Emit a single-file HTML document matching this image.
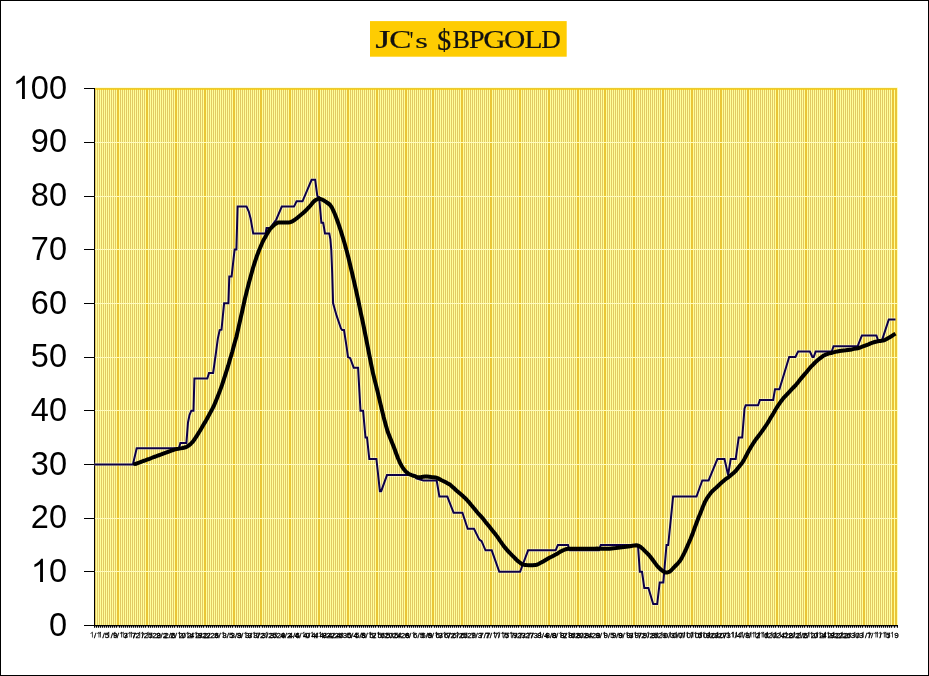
<!DOCTYPE html><html><head><meta charset="utf-8"><title>JC's $BPGOLD</title>
<style>html,body{margin:0;padding:0;background:#fff}body{width:929px;height:676px;overflow:hidden}svg{display:block}text{font-family:"Liberation Sans",sans-serif}.ser text{font-family:"Liberation Serif",serif}</style></head><body>
<svg style="will-change:transform" width="929" height="676" viewBox="0 0 929 676">
<rect x="0" y="0" width="929" height="676" fill="#fff"/>
<g shape-rendering="crispEdges">
<rect x="95" y="88" width="802" height="537" fill="#E2C864"/>
<path d="M117.5 88V625M118.5 88V625M146.5 88V625M147.5 88V625M175.5 88V625M176.5 88V625M204.5 88V625M205.5 88V625M233.5 88V625M234.5 88V625M260.5 88V625M261.5 88V625M289.5 88V625M290.5 88V625M318.5 88V625M319.5 88V625M347.5 88V625M348.5 88V625M376.5 88V625M377.5 88V625M405.5 88V625M406.5 88V625M432.5 88V625M433.5 88V625M461.5 88V625M462.5 88V625M490.5 88V625M491.5 88V625M519.5 88V625M520.5 88V625M548.5 88V625M549.5 88V625M577.5 88V625M578.5 88V625M604.5 88V625M605.5 88V625M633.5 88V625M634.5 88V625M662.5 88V625M663.5 88V625M691.5 88V625M692.5 88V625M720.5 88V625M721.5 88V625M747.5 88V625M748.5 88V625M776.5 88V625M777.5 88V625M805.5 88V625M806.5 88V625M834.5 88V625M835.5 88V625M863.5 88V625M864.5 88V625M892.5 88V625M893.5 88V625M895.5 88V625M896.5 88V625" stroke="#EAC536" stroke-width="1" fill="none"/>
<path d="M96.5 88V625M98.5 88V625M100.5 88V625M102.5 88V625M104.5 88V625M106.5 88V625M108.5 88V625M110.5 88V625M112.5 88V625M114.5 88V625M116.5 88V625M119.5 88V625M121.5 88V625M123.5 88V625M125.5 88V625M127.5 88V625M129.5 88V625M131.5 88V625M133.5 88V625M135.5 88V625M137.5 88V625M139.5 88V625M141.5 88V625M143.5 88V625M145.5 88V625M148.5 88V625M150.5 88V625M152.5 88V625M154.5 88V625M156.5 88V625M158.5 88V625M160.5 88V625M162.5 88V625M164.5 88V625M166.5 88V625M168.5 88V625M170.5 88V625M172.5 88V625M174.5 88V625M177.5 88V625M179.5 88V625M181.5 88V625M183.5 88V625M185.5 88V625M187.5 88V625M189.5 88V625M191.5 88V625M193.5 88V625M195.5 88V625M197.5 88V625M199.5 88V625M201.5 88V625M203.5 88V625M206.5 88V625M208.5 88V625M210.5 88V625M212.5 88V625M214.5 88V625M216.5 88V625M218.5 88V625M220.5 88V625M222.5 88V625M224.5 88V625M226.5 88V625M228.5 88V625M230.5 88V625M232.5 88V625M235.5 88V625M237.5 88V625M239.5 88V625M241.5 88V625M243.5 88V625M245.5 88V625M247.5 88V625M249.5 88V625M251.5 88V625M253.5 88V625M255.5 88V625M257.5 88V625M259.5 88V625M262.5 88V625M264.5 88V625M266.5 88V625M268.5 88V625M270.5 88V625M272.5 88V625M274.5 88V625M276.5 88V625M278.5 88V625M280.5 88V625M282.5 88V625M284.5 88V625M286.5 88V625M288.5 88V625M291.5 88V625M293.5 88V625M295.5 88V625M297.5 88V625M299.5 88V625M301.5 88V625M303.5 88V625M305.5 88V625M307.5 88V625M309.5 88V625M311.5 88V625M313.5 88V625M315.5 88V625M317.5 88V625M320.5 88V625M322.5 88V625M324.5 88V625M326.5 88V625M328.5 88V625M330.5 88V625M332.5 88V625M334.5 88V625M336.5 88V625M338.5 88V625M340.5 88V625M342.5 88V625M344.5 88V625M346.5 88V625M349.5 88V625M351.5 88V625M353.5 88V625M355.5 88V625M357.5 88V625M359.5 88V625M361.5 88V625M363.5 88V625M365.5 88V625M367.5 88V625M369.5 88V625M371.5 88V625M373.5 88V625M375.5 88V625M378.5 88V625M380.5 88V625M382.5 88V625M384.5 88V625M386.5 88V625M388.5 88V625M390.5 88V625M392.5 88V625M394.5 88V625M396.5 88V625M398.5 88V625M400.5 88V625M402.5 88V625M404.5 88V625M407.5 88V625M409.5 88V625M411.5 88V625M413.5 88V625M415.5 88V625M417.5 88V625M419.5 88V625M421.5 88V625M423.5 88V625M425.5 88V625M427.5 88V625M429.5 88V625M431.5 88V625M434.5 88V625M436.5 88V625M438.5 88V625M440.5 88V625M442.5 88V625M444.5 88V625M446.5 88V625M448.5 88V625M450.5 88V625M452.5 88V625M454.5 88V625M456.5 88V625M458.5 88V625M460.5 88V625M463.5 88V625M465.5 88V625M467.5 88V625M469.5 88V625M471.5 88V625M473.5 88V625M475.5 88V625M477.5 88V625M479.5 88V625M481.5 88V625M483.5 88V625M485.5 88V625M487.5 88V625M489.5 88V625M492.5 88V625M494.5 88V625M496.5 88V625M498.5 88V625M500.5 88V625M502.5 88V625M504.5 88V625M506.5 88V625M508.5 88V625M510.5 88V625M512.5 88V625M514.5 88V625M516.5 88V625M518.5 88V625M521.5 88V625M523.5 88V625M525.5 88V625M527.5 88V625M529.5 88V625M531.5 88V625M533.5 88V625M535.5 88V625M537.5 88V625M539.5 88V625M541.5 88V625M543.5 88V625M545.5 88V625M547.5 88V625M550.5 88V625M552.5 88V625M554.5 88V625M556.5 88V625M558.5 88V625M560.5 88V625M562.5 88V625M564.5 88V625M566.5 88V625M568.5 88V625M570.5 88V625M572.5 88V625M574.5 88V625M576.5 88V625M579.5 88V625M581.5 88V625M583.5 88V625M585.5 88V625M587.5 88V625M589.5 88V625M591.5 88V625M593.5 88V625M595.5 88V625M597.5 88V625M599.5 88V625M601.5 88V625M603.5 88V625M606.5 88V625M608.5 88V625M610.5 88V625M612.5 88V625M614.5 88V625M616.5 88V625M618.5 88V625M620.5 88V625M622.5 88V625M624.5 88V625M626.5 88V625M628.5 88V625M630.5 88V625M632.5 88V625M635.5 88V625M637.5 88V625M639.5 88V625M641.5 88V625M643.5 88V625M645.5 88V625M647.5 88V625M649.5 88V625M651.5 88V625M653.5 88V625M655.5 88V625M657.5 88V625M659.5 88V625M661.5 88V625M664.5 88V625M666.5 88V625M668.5 88V625M670.5 88V625M672.5 88V625M674.5 88V625M676.5 88V625M678.5 88V625M680.5 88V625M682.5 88V625M684.5 88V625M686.5 88V625M688.5 88V625M690.5 88V625M693.5 88V625M695.5 88V625M697.5 88V625M699.5 88V625M701.5 88V625M703.5 88V625M705.5 88V625M707.5 88V625M709.5 88V625M711.5 88V625M713.5 88V625M715.5 88V625M717.5 88V625M719.5 88V625M722.5 88V625M724.5 88V625M726.5 88V625M728.5 88V625M730.5 88V625M732.5 88V625M734.5 88V625M736.5 88V625M738.5 88V625M740.5 88V625M742.5 88V625M744.5 88V625M746.5 88V625M749.5 88V625M751.5 88V625M753.5 88V625M755.5 88V625M757.5 88V625M759.5 88V625M761.5 88V625M763.5 88V625M765.5 88V625M767.5 88V625M769.5 88V625M771.5 88V625M773.5 88V625M775.5 88V625M778.5 88V625M780.5 88V625M782.5 88V625M784.5 88V625M786.5 88V625M788.5 88V625M790.5 88V625M792.5 88V625M794.5 88V625M796.5 88V625M798.5 88V625M800.5 88V625M802.5 88V625M804.5 88V625M807.5 88V625M809.5 88V625M811.5 88V625M813.5 88V625M815.5 88V625M817.5 88V625M819.5 88V625M821.5 88V625M823.5 88V625M825.5 88V625M827.5 88V625M829.5 88V625M831.5 88V625M833.5 88V625M836.5 88V625M838.5 88V625M840.5 88V625M842.5 88V625M844.5 88V625M846.5 88V625M848.5 88V625M850.5 88V625M852.5 88V625M854.5 88V625M856.5 88V625M858.5 88V625M860.5 88V625M862.5 88V625M865.5 88V625M867.5 88V625M869.5 88V625M871.5 88V625M873.5 88V625M875.5 88V625M877.5 88V625M879.5 88V625M881.5 88V625M883.5 88V625M885.5 88V625M887.5 88V625M889.5 88V625M891.5 88V625M894.5 88V625M897.5 88V625" stroke="#FFFF9C" stroke-width="1" fill="none"/>
<path d="M95 571.5H898M95 518.5H898M95 464.5H898M95 410.5H898M95 357.5H898M95 303.5H898M95 249.5H898M95 196.5H898M95 142.5H898" stroke="#FFFBBE" stroke-width="1" fill="none"/>
<rect x="95" y="88" width="802" height="1" fill="#EACA34"/>
<rect x="95" y="89" width="802" height="1" fill="#F5C81C"/>
<path d="M96.5 89V90M98.5 89V90M100.5 89V90M102.5 89V90M104.5 89V90M106.5 89V90M108.5 89V90M110.5 89V90M112.5 89V90M114.5 89V90M116.5 89V90M119.5 89V90M121.5 89V90M123.5 89V90M125.5 89V90M127.5 89V90M129.5 89V90M131.5 89V90M133.5 89V90M135.5 89V90M137.5 89V90M139.5 89V90M141.5 89V90M143.5 89V90M145.5 89V90M148.5 89V90M150.5 89V90M152.5 89V90M154.5 89V90M156.5 89V90M158.5 89V90M160.5 89V90M162.5 89V90M164.5 89V90M166.5 89V90M168.5 89V90M170.5 89V90M172.5 89V90M174.5 89V90M177.5 89V90M179.5 89V90M181.5 89V90M183.5 89V90M185.5 89V90M187.5 89V90M189.5 89V90M191.5 89V90M193.5 89V90M195.5 89V90M197.5 89V90M199.5 89V90M201.5 89V90M203.5 89V90M206.5 89V90M208.5 89V90M210.5 89V90M212.5 89V90M214.5 89V90M216.5 89V90M218.5 89V90M220.5 89V90M222.5 89V90M224.5 89V90M226.5 89V90M228.5 89V90M230.5 89V90M232.5 89V90M235.5 89V90M237.5 89V90M239.5 89V90M241.5 89V90M243.5 89V90M245.5 89V90M247.5 89V90M249.5 89V90M251.5 89V90M253.5 89V90M255.5 89V90M257.5 89V90M259.5 89V90M262.5 89V90M264.5 89V90M266.5 89V90M268.5 89V90M270.5 89V90M272.5 89V90M274.5 89V90M276.5 89V90M278.5 89V90M280.5 89V90M282.5 89V90M284.5 89V90M286.5 89V90M288.5 89V90M291.5 89V90M293.5 89V90M295.5 89V90M297.5 89V90M299.5 89V90M301.5 89V90M303.5 89V90M305.5 89V90M307.5 89V90M309.5 89V90M311.5 89V90M313.5 89V90M315.5 89V90M317.5 89V90M320.5 89V90M322.5 89V90M324.5 89V90M326.5 89V90M328.5 89V90M330.5 89V90M332.5 89V90M334.5 89V90M336.5 89V90M338.5 89V90M340.5 89V90M342.5 89V90M344.5 89V90M346.5 89V90M349.5 89V90M351.5 89V90M353.5 89V90M355.5 89V90M357.5 89V90M359.5 89V90M361.5 89V90M363.5 89V90M365.5 89V90M367.5 89V90M369.5 89V90M371.5 89V90M373.5 89V90M375.5 89V90M378.5 89V90M380.5 89V90M382.5 89V90M384.5 89V90M386.5 89V90M388.5 89V90M390.5 89V90M392.5 89V90M394.5 89V90M396.5 89V90M398.5 89V90M400.5 89V90M402.5 89V90M404.5 89V90M407.5 89V90M409.5 89V90M411.5 89V90M413.5 89V90M415.5 89V90M417.5 89V90M419.5 89V90M421.5 89V90M423.5 89V90M425.5 89V90M427.5 89V90M429.5 89V90M431.5 89V90M434.5 89V90M436.5 89V90M438.5 89V90M440.5 89V90M442.5 89V90M444.5 89V90M446.5 89V90M448.5 89V90M450.5 89V90M452.5 89V90M454.5 89V90M456.5 89V90M458.5 89V90M460.5 89V90M463.5 89V90M465.5 89V90M467.5 89V90M469.5 89V90M471.5 89V90M473.5 89V90M475.5 89V90M477.5 89V90M479.5 89V90M481.5 89V90M483.5 89V90M485.5 89V90M487.5 89V90M489.5 89V90M492.5 89V90M494.5 89V90M496.5 89V90M498.5 89V90M500.5 89V90M502.5 89V90M504.5 89V90M506.5 89V90M508.5 89V90M510.5 89V90M512.5 89V90M514.5 89V90M516.5 89V90M518.5 89V90M521.5 89V90M523.5 89V90M525.5 89V90M527.5 89V90M529.5 89V90M531.5 89V90M533.5 89V90M535.5 89V90M537.5 89V90M539.5 89V90M541.5 89V90M543.5 89V90M545.5 89V90M547.5 89V90M550.5 89V90M552.5 89V90M554.5 89V90M556.5 89V90M558.5 89V90M560.5 89V90M562.5 89V90M564.5 89V90M566.5 89V90M568.5 89V90M570.5 89V90M572.5 89V90M574.5 89V90M576.5 89V90M579.5 89V90M581.5 89V90M583.5 89V90M585.5 89V90M587.5 89V90M589.5 89V90M591.5 89V90M593.5 89V90M595.5 89V90M597.5 89V90M599.5 89V90M601.5 89V90M603.5 89V90M606.5 89V90M608.5 89V90M610.5 89V90M612.5 89V90M614.5 89V90M616.5 89V90M618.5 89V90M620.5 89V90M622.5 89V90M624.5 89V90M626.5 89V90M628.5 89V90M630.5 89V90M632.5 89V90M635.5 89V90M637.5 89V90M639.5 89V90M641.5 89V90M643.5 89V90M645.5 89V90M647.5 89V90M649.5 89V90M651.5 89V90M653.5 89V90M655.5 89V90M657.5 89V90M659.5 89V90M661.5 89V90M664.5 89V90M666.5 89V90M668.5 89V90M670.5 89V90M672.5 89V90M674.5 89V90M676.5 89V90M678.5 89V90M680.5 89V90M682.5 89V90M684.5 89V90M686.5 89V90M688.5 89V90M690.5 89V90M693.5 89V90M695.5 89V90M697.5 89V90M699.5 89V90M701.5 89V90M703.5 89V90M705.5 89V90M707.5 89V90M709.5 89V90M711.5 89V90M713.5 89V90M715.5 89V90M717.5 89V90M719.5 89V90M722.5 89V90M724.5 89V90M726.5 89V90M728.5 89V90M730.5 89V90M732.5 89V90M734.5 89V90M736.5 89V90M738.5 89V90M740.5 89V90M742.5 89V90M744.5 89V90M746.5 89V90M749.5 89V90M751.5 89V90M753.5 89V90M755.5 89V90M757.5 89V90M759.5 89V90M761.5 89V90M763.5 89V90M765.5 89V90M767.5 89V90M769.5 89V90M771.5 89V90M773.5 89V90M775.5 89V90M778.5 89V90M780.5 89V90M782.5 89V90M784.5 89V90M786.5 89V90M788.5 89V90M790.5 89V90M792.5 89V90M794.5 89V90M796.5 89V90M798.5 89V90M800.5 89V90M802.5 89V90M804.5 89V90M807.5 89V90M809.5 89V90M811.5 89V90M813.5 89V90M815.5 89V90M817.5 89V90M819.5 89V90M821.5 89V90M823.5 89V90M825.5 89V90M827.5 89V90M829.5 89V90M831.5 89V90M833.5 89V90M836.5 89V90M838.5 89V90M840.5 89V90M842.5 89V90M844.5 89V90M846.5 89V90M848.5 89V90M850.5 89V90M852.5 89V90M854.5 89V90M856.5 89V90M858.5 89V90M860.5 89V90M862.5 89V90M865.5 89V90M867.5 89V90M869.5 89V90M871.5 89V90M873.5 89V90M875.5 89V90M877.5 89V90M879.5 89V90M881.5 89V90M883.5 89V90M885.5 89V90M887.5 89V90M889.5 89V90M891.5 89V90M894.5 89V90" stroke="#FFD72A" stroke-width="1" fill="none"/>
<rect x="897" y="88" width="1" height="537" fill="#FFFFB8"/>
<rect x="95" y="87" width="803" height="1" fill="#FFFFD8"/>
<rect x="94" y="88" width="1" height="538" fill="#000"/>
<rect x="84" y="625" width="814" height="1" fill="#000"/>
<path d="M84 625.5H95M84 571.5H95M84 518.5H95M84 464.5H95M84 410.5H95M84 357.5H95M84 303.5H95M84 249.5H95M84 196.5H95M84 142.5H95M84 88.5H95" stroke="#000" stroke-width="1" fill="none"/>
<rect x="94" y="626" width="804" height="1" fill="#8c8c8c"/>
<rect x="94" y="627" width="804" height="1" fill="#dcdcdc"/>
<path d="M94.5 626V627M96.5 626V627M98.5 626V627M100.5 626V627M102.5 626V627M104.5 626V627M106.5 626V627M108.5 626V627M110.5 626V627M112.5 626V627M114.5 626V627M116.5 626V627M119.5 626V627M121.5 626V627M123.5 626V627M125.5 626V627M127.5 626V627M129.5 626V627M131.5 626V627M133.5 626V627M135.5 626V627M137.5 626V627M139.5 626V627M141.5 626V627M143.5 626V627M145.5 626V627M148.5 626V627M150.5 626V627M152.5 626V627M154.5 626V627M156.5 626V627M158.5 626V627M160.5 626V627M162.5 626V627M164.5 626V627M166.5 626V627M168.5 626V627M170.5 626V627M172.5 626V627M174.5 626V627M177.5 626V627M179.5 626V627M181.5 626V627M183.5 626V627M185.5 626V627M187.5 626V627M189.5 626V627M191.5 626V627M193.5 626V627M195.5 626V627M197.5 626V627M199.5 626V627M201.5 626V627M203.5 626V627M206.5 626V627M208.5 626V627M210.5 626V627M212.5 626V627M214.5 626V627M216.5 626V627M218.5 626V627M220.5 626V627M222.5 626V627M224.5 626V627M226.5 626V627M228.5 626V627M230.5 626V627M232.5 626V627M235.5 626V627M237.5 626V627M239.5 626V627M241.5 626V627M243.5 626V627M245.5 626V627M247.5 626V627M249.5 626V627M251.5 626V627M253.5 626V627M255.5 626V627M257.5 626V627M259.5 626V627M262.5 626V627M264.5 626V627M266.5 626V627M268.5 626V627M270.5 626V627M272.5 626V627M274.5 626V627M276.5 626V627M278.5 626V627M280.5 626V627M282.5 626V627M284.5 626V627M286.5 626V627M288.5 626V627M291.5 626V627M293.5 626V627M295.5 626V627M297.5 626V627M299.5 626V627M301.5 626V627M303.5 626V627M305.5 626V627M307.5 626V627M309.5 626V627M311.5 626V627M313.5 626V627M315.5 626V627M317.5 626V627M320.5 626V627M322.5 626V627M324.5 626V627M326.5 626V627M328.5 626V627M330.5 626V627M332.5 626V627M334.5 626V627M336.5 626V627M338.5 626V627M340.5 626V627M342.5 626V627M344.5 626V627M346.5 626V627M349.5 626V627M351.5 626V627M353.5 626V627M355.5 626V627M357.5 626V627M359.5 626V627M361.5 626V627M363.5 626V627M365.5 626V627M367.5 626V627M369.5 626V627M371.5 626V627M373.5 626V627M375.5 626V627M378.5 626V627M380.5 626V627M382.5 626V627M384.5 626V627M386.5 626V627M388.5 626V627M390.5 626V627M392.5 626V627M394.5 626V627M396.5 626V627M398.5 626V627M400.5 626V627M402.5 626V627M404.5 626V627M407.5 626V627M409.5 626V627M411.5 626V627M413.5 626V627M415.5 626V627M417.5 626V627M419.5 626V627M421.5 626V627M423.5 626V627M425.5 626V627M427.5 626V627M429.5 626V627M431.5 626V627M434.5 626V627M436.5 626V627M438.5 626V627M440.5 626V627M442.5 626V627M444.5 626V627M446.5 626V627M448.5 626V627M450.5 626V627M452.5 626V627M454.5 626V627M456.5 626V627M458.5 626V627M460.5 626V627M463.5 626V627M465.5 626V627M467.5 626V627M469.5 626V627M471.5 626V627M473.5 626V627M475.5 626V627M477.5 626V627M479.5 626V627M481.5 626V627M483.5 626V627M485.5 626V627M487.5 626V627M489.5 626V627M492.5 626V627M494.5 626V627M496.5 626V627M498.5 626V627M500.5 626V627M502.5 626V627M504.5 626V627M506.5 626V627M508.5 626V627M510.5 626V627M512.5 626V627M514.5 626V627M516.5 626V627M518.5 626V627M521.5 626V627M523.5 626V627M525.5 626V627M527.5 626V627M529.5 626V627M531.5 626V627M533.5 626V627M535.5 626V627M537.5 626V627M539.5 626V627M541.5 626V627M543.5 626V627M545.5 626V627M547.5 626V627M550.5 626V627M552.5 626V627M554.5 626V627M556.5 626V627M558.5 626V627M560.5 626V627M562.5 626V627M564.5 626V627M566.5 626V627M568.5 626V627M570.5 626V627M572.5 626V627M574.5 626V627M576.5 626V627M579.5 626V627M581.5 626V627M583.5 626V627M585.5 626V627M587.5 626V627M589.5 626V627M591.5 626V627M593.5 626V627M595.5 626V627M597.5 626V627M599.5 626V627M601.5 626V627M603.5 626V627M606.5 626V627M608.5 626V627M610.5 626V627M612.5 626V627M614.5 626V627M616.5 626V627M618.5 626V627M620.5 626V627M622.5 626V627M624.5 626V627M626.5 626V627M628.5 626V627M630.5 626V627M632.5 626V627M635.5 626V627M637.5 626V627M639.5 626V627M641.5 626V627M643.5 626V627M645.5 626V627M647.5 626V627M649.5 626V627M651.5 626V627M653.5 626V627M655.5 626V627M657.5 626V627M659.5 626V627M661.5 626V627M664.5 626V627M666.5 626V627M668.5 626V627M670.5 626V627M672.5 626V627M674.5 626V627M676.5 626V627M678.5 626V627M680.5 626V627M682.5 626V627M684.5 626V627M686.5 626V627M688.5 626V627M690.5 626V627M693.5 626V627M695.5 626V627M697.5 626V627M699.5 626V627M701.5 626V627M703.5 626V627M705.5 626V627M707.5 626V627M709.5 626V627M711.5 626V627M713.5 626V627M715.5 626V627M717.5 626V627M719.5 626V627M722.5 626V627M724.5 626V627M726.5 626V627M728.5 626V627M730.5 626V627M732.5 626V627M734.5 626V627M736.5 626V627M738.5 626V627M740.5 626V627M742.5 626V627M744.5 626V627M746.5 626V627M749.5 626V627M751.5 626V627M753.5 626V627M755.5 626V627M757.5 626V627M759.5 626V627M761.5 626V627M763.5 626V627M765.5 626V627M767.5 626V627M769.5 626V627M771.5 626V627M773.5 626V627M775.5 626V627M778.5 626V627M780.5 626V627M782.5 626V627M784.5 626V627M786.5 626V627M788.5 626V627M790.5 626V627M792.5 626V627M794.5 626V627M796.5 626V627M798.5 626V627M800.5 626V627M802.5 626V627M804.5 626V627M807.5 626V627M809.5 626V627M811.5 626V627M813.5 626V627M815.5 626V627M817.5 626V627M819.5 626V627M821.5 626V627M823.5 626V627M825.5 626V627M827.5 626V627M829.5 626V627M831.5 626V627M833.5 626V627M836.5 626V627M838.5 626V627M840.5 626V627M842.5 626V627M844.5 626V627M846.5 626V627M848.5 626V627M850.5 626V627M852.5 626V627M854.5 626V627M856.5 626V627M858.5 626V627M860.5 626V627M862.5 626V627M865.5 626V627M867.5 626V627M869.5 626V627M871.5 626V627M873.5 626V627M875.5 626V627M877.5 626V627M879.5 626V627M881.5 626V627M883.5 626V627M885.5 626V627M887.5 626V627M889.5 626V627M891.5 626V627M894.5 626V627M897.5 626V627" stroke="#000" stroke-width="1" fill="none"/>
<path d="M94.5 627V628M96.5 627V628M98.5 627V628M100.5 627V628M102.5 627V628M104.5 627V628M106.5 627V628M108.5 627V628M110.5 627V628M112.5 627V628M114.5 627V628M116.5 627V628M119.5 627V628M121.5 627V628M123.5 627V628M125.5 627V628M127.5 627V628M129.5 627V628M131.5 627V628M133.5 627V628M135.5 627V628M137.5 627V628M139.5 627V628M141.5 627V628M143.5 627V628M145.5 627V628M148.5 627V628M150.5 627V628M152.5 627V628M154.5 627V628M156.5 627V628M158.5 627V628M160.5 627V628M162.5 627V628M164.5 627V628M166.5 627V628M168.5 627V628M170.5 627V628M172.5 627V628M174.5 627V628M177.5 627V628M179.5 627V628M181.5 627V628M183.5 627V628M185.5 627V628M187.5 627V628M189.5 627V628M191.5 627V628M193.5 627V628M195.5 627V628M197.5 627V628M199.5 627V628M201.5 627V628M203.5 627V628M206.5 627V628M208.5 627V628M210.5 627V628M212.5 627V628M214.5 627V628M216.5 627V628M218.5 627V628M220.5 627V628M222.5 627V628M224.5 627V628M226.5 627V628M228.5 627V628M230.5 627V628M232.5 627V628M235.5 627V628M237.5 627V628M239.5 627V628M241.5 627V628M243.5 627V628M245.5 627V628M247.5 627V628M249.5 627V628M251.5 627V628M253.5 627V628M255.5 627V628M257.5 627V628M259.5 627V628M262.5 627V628M264.5 627V628M266.5 627V628M268.5 627V628M270.5 627V628M272.5 627V628M274.5 627V628M276.5 627V628M278.5 627V628M280.5 627V628M282.5 627V628M284.5 627V628M286.5 627V628M288.5 627V628M291.5 627V628M293.5 627V628M295.5 627V628M297.5 627V628M299.5 627V628M301.5 627V628M303.5 627V628M305.5 627V628M307.5 627V628M309.5 627V628M311.5 627V628M313.5 627V628M315.5 627V628M317.5 627V628M320.5 627V628M322.5 627V628M324.5 627V628M326.5 627V628M328.5 627V628M330.5 627V628M332.5 627V628M334.5 627V628M336.5 627V628M338.5 627V628M340.5 627V628M342.5 627V628M344.5 627V628M346.5 627V628M349.5 627V628M351.5 627V628M353.5 627V628M355.5 627V628M357.5 627V628M359.5 627V628M361.5 627V628M363.5 627V628M365.5 627V628M367.5 627V628M369.5 627V628M371.5 627V628M373.5 627V628M375.5 627V628M378.5 627V628M380.5 627V628M382.5 627V628M384.5 627V628M386.5 627V628M388.5 627V628M390.5 627V628M392.5 627V628M394.5 627V628M396.5 627V628M398.5 627V628M400.5 627V628M402.5 627V628M404.5 627V628M407.5 627V628M409.5 627V628M411.5 627V628M413.5 627V628M415.5 627V628M417.5 627V628M419.5 627V628M421.5 627V628M423.5 627V628M425.5 627V628M427.5 627V628M429.5 627V628M431.5 627V628M434.5 627V628M436.5 627V628M438.5 627V628M440.5 627V628M442.5 627V628M444.5 627V628M446.5 627V628M448.5 627V628M450.5 627V628M452.5 627V628M454.5 627V628M456.5 627V628M458.5 627V628M460.5 627V628M463.5 627V628M465.5 627V628M467.5 627V628M469.5 627V628M471.5 627V628M473.5 627V628M475.5 627V628M477.5 627V628M479.5 627V628M481.5 627V628M483.5 627V628M485.5 627V628M487.5 627V628M489.5 627V628M492.5 627V628M494.5 627V628M496.5 627V628M498.5 627V628M500.5 627V628M502.5 627V628M504.5 627V628M506.5 627V628M508.5 627V628M510.5 627V628M512.5 627V628M514.5 627V628M516.5 627V628M518.5 627V628M521.5 627V628M523.5 627V628M525.5 627V628M527.5 627V628M529.5 627V628M531.5 627V628M533.5 627V628M535.5 627V628M537.5 627V628M539.5 627V628M541.5 627V628M543.5 627V628M545.5 627V628M547.5 627V628M550.5 627V628M552.5 627V628M554.5 627V628M556.5 627V628M558.5 627V628M560.5 627V628M562.5 627V628M564.5 627V628M566.5 627V628M568.5 627V628M570.5 627V628M572.5 627V628M574.5 627V628M576.5 627V628M579.5 627V628M581.5 627V628M583.5 627V628M585.5 627V628M587.5 627V628M589.5 627V628M591.5 627V628M593.5 627V628M595.5 627V628M597.5 627V628M599.5 627V628M601.5 627V628M603.5 627V628M606.5 627V628M608.5 627V628M610.5 627V628M612.5 627V628M614.5 627V628M616.5 627V628M618.5 627V628M620.5 627V628M622.5 627V628M624.5 627V628M626.5 627V628M628.5 627V628M630.5 627V628M632.5 627V628M635.5 627V628M637.5 627V628M639.5 627V628M641.5 627V628M643.5 627V628M645.5 627V628M647.5 627V628M649.5 627V628M651.5 627V628M653.5 627V628M655.5 627V628M657.5 627V628M659.5 627V628M661.5 627V628M664.5 627V628M666.5 627V628M668.5 627V628M670.5 627V628M672.5 627V628M674.5 627V628M676.5 627V628M678.5 627V628M680.5 627V628M682.5 627V628M684.5 627V628M686.5 627V628M688.5 627V628M690.5 627V628M693.5 627V628M695.5 627V628M697.5 627V628M699.5 627V628M701.5 627V628M703.5 627V628M705.5 627V628M707.5 627V628M709.5 627V628M711.5 627V628M713.5 627V628M715.5 627V628M717.5 627V628M719.5 627V628M722.5 627V628M724.5 627V628M726.5 627V628M728.5 627V628M730.5 627V628M732.5 627V628M734.5 627V628M736.5 627V628M738.5 627V628M740.5 627V628M742.5 627V628M744.5 627V628M746.5 627V628M749.5 627V628M751.5 627V628M753.5 627V628M755.5 627V628M757.5 627V628M759.5 627V628M761.5 627V628M763.5 627V628M765.5 627V628M767.5 627V628M769.5 627V628M771.5 627V628M773.5 627V628M775.5 627V628M778.5 627V628M780.5 627V628M782.5 627V628M784.5 627V628M786.5 627V628M788.5 627V628M790.5 627V628M792.5 627V628M794.5 627V628M796.5 627V628M798.5 627V628M800.5 627V628M802.5 627V628M804.5 627V628M807.5 627V628M809.5 627V628M811.5 627V628M813.5 627V628M815.5 627V628M817.5 627V628M819.5 627V628M821.5 627V628M823.5 627V628M825.5 627V628M827.5 627V628M829.5 627V628M831.5 627V628M833.5 627V628M836.5 627V628M838.5 627V628M840.5 627V628M842.5 627V628M844.5 627V628M846.5 627V628M848.5 627V628M850.5 627V628M852.5 627V628M854.5 627V628M856.5 627V628M858.5 627V628M860.5 627V628M862.5 627V628M865.5 627V628M867.5 627V628M869.5 627V628M871.5 627V628M873.5 627V628M875.5 627V628M877.5 627V628M879.5 627V628M881.5 627V628M883.5 627V628M885.5 627V628M887.5 627V628M889.5 627V628M891.5 627V628M894.5 627V628M897.5 627V628" stroke="#3c3c3c" stroke-width="1" fill="none"/>
</g>
<defs><path id="one" d="M763 0H583V-1147Q518 -1085 412.5 -1023T223 -930V-1104Q374 -1175 487 -1276T647 -1472H763Z"/></defs>
<text x="67.0" y="636.0" font-size="32.5" text-anchor="end" fill="#000">0</text>
<text x="67.0" y="582.0" font-size="32.5" text-anchor="end" fill="#000">0</text>
<use href="#one" transform="translate(30.85,582.0) scale(0.01587)" fill="#000"/>
<text x="67.0" y="528.0" font-size="32.5" text-anchor="end" fill="#000">20</text>
<text x="67.0" y="475.0" font-size="32.5" text-anchor="end" fill="#000">30</text>
<text x="67.0" y="421.0" font-size="32.5" text-anchor="end" fill="#000">40</text>
<text x="67.0" y="367.0" font-size="32.5" text-anchor="end" fill="#000">50</text>
<text x="67.0" y="314.0" font-size="32.5" text-anchor="end" fill="#000">60</text>
<text x="67.0" y="260.0" font-size="32.5" text-anchor="end" fill="#000">70</text>
<text x="67.0" y="206.0" font-size="32.5" text-anchor="end" fill="#000">80</text>
<text x="67.0" y="152.0" font-size="32.5" text-anchor="end" fill="#000">90</text>
<text x="67.0" y="99.0" font-size="32.5" text-anchor="end" fill="#000">00</text>
<use href="#one" transform="translate(12.77,99.0) scale(0.01587)" fill="#000"/>
<g font-size="8.0" fill="#000" stroke="#000" stroke-width="0.3">
<use href="#one" transform="translate(89.68,637.6) scale(0.00391)"/>
<use href="#one" transform="translate(96.35,637.6) scale(0.00391)"/>
<text x="94.12" y="637.6">/</text>
<use href="#one" transform="translate(97.96,637.6) scale(0.00391)"/>
<text x="102.41 104.64" y="637.6">/5</text>
<use href="#one" transform="translate(106.25,637.6) scale(0.00391)"/>
<text x="110.70 112.93" y="637.6">/9</text>
<use href="#one" transform="translate(112.32,637.6) scale(0.00391)"/>
<use href="#one" transform="translate(118.99,637.6) scale(0.00391)"/>
<text x="116.77 123.44" y="637.6">/3</text>
<use href="#one" transform="translate(120.61,637.6) scale(0.00391)"/>
<use href="#one" transform="translate(127.28,637.6) scale(0.00391)"/>
<text x="125.06 131.73" y="637.6">/7</text>
<use href="#one" transform="translate(128.90,637.6) scale(0.00391)"/>
<use href="#one" transform="translate(140.02,637.6) scale(0.00391)"/>
<text x="133.35 135.57" y="637.6">/2</text>
<use href="#one" transform="translate(137.19,637.6) scale(0.00391)"/>
<text x="141.64 143.86 148.31" y="637.6">/25</text>
<use href="#one" transform="translate(145.48,637.6) scale(0.00391)"/>
<text x="149.93 152.15 156.60" y="637.6">/29</text>
<text x="155.99 160.44 162.66" y="637.6">2/2</text>
<text x="164.28 168.73 170.95" y="637.6">2/6</text>
<use href="#one" transform="translate(177.02,637.6) scale(0.00391)"/>
<text x="170.34 174.79 181.47" y="637.6">2/0</text>
<use href="#one" transform="translate(185.31,637.6) scale(0.00391)"/>
<text x="178.63 183.08 189.76" y="637.6">2/4</text>
<use href="#one" transform="translate(193.60,637.6) scale(0.00391)"/>
<text x="186.92 191.37 198.05" y="637.6">2/8</text>
<text x="195.21 199.66 201.88 206.33" y="637.6">2/22</text>
<text x="203.50 207.95 210.17 214.62" y="637.6">2/26</text>
<use href="#one" transform="translate(220.69,637.6) scale(0.00391)"/>
<text x="214.02 218.47" y="637.6">3/</text>
<text x="222.31 226.76 228.98" y="637.6">3/5</text>
<text x="230.60 235.04 237.27" y="637.6">3/9</text>
<use href="#one" transform="translate(243.33,637.6) scale(0.00391)"/>
<text x="236.66 241.11 247.78" y="637.6">3/3</text>
<use href="#one" transform="translate(251.62,637.6) scale(0.00391)"/>
<text x="244.95 249.40 256.07" y="637.6">3/7</text>
<use href="#one" transform="translate(264.36,637.6) scale(0.00391)"/>
<text x="253.24 257.69 259.91" y="637.6">3/2</text>
<text x="261.53 265.98 268.20 272.65" y="637.6">3/25</text>
<text x="269.82 274.27 276.49 280.94" y="637.6">3/29</text>
<text x="280.33 284.78 287.00" y="637.6">4/2</text>
<text x="288.62 293.07 295.29" y="637.6">4/6</text>
<use href="#one" transform="translate(301.36,637.6) scale(0.00391)"/>
<text x="294.69 299.14 305.81" y="637.6">4/0</text>
<use href="#one" transform="translate(309.65,637.6) scale(0.00391)"/>
<text x="302.98 307.42 314.10" y="637.6">4/4</text>
<use href="#one" transform="translate(317.94,637.6) scale(0.00391)"/>
<text x="311.26 315.71 322.39" y="637.6">4/8</text>
<text x="319.55 324.00 326.23 330.68" y="637.6">4/22</text>
<text x="327.84 332.29 334.52 338.96" y="637.6">4/26</text>
<text x="336.13 340.58 342.80 347.25" y="637.6">4/30</text>
<text x="346.65 351.10 353.32" y="637.6">5/4</text>
<text x="354.94 359.39 361.61" y="637.6">5/8</text>
<use href="#one" transform="translate(367.67,637.6) scale(0.00391)"/>
<text x="361.00 365.45 372.12" y="637.6">5/2</text>
<use href="#one" transform="translate(375.96,637.6) scale(0.00391)"/>
<text x="369.29 373.74 380.41" y="637.6">5/6</text>
<text x="377.58 382.03 384.25 388.70" y="637.6">5/20</text>
<text x="385.87 390.32 392.54 396.99" y="637.6">5/24</text>
<text x="394.16 398.61 400.83 405.28" y="637.6">5/28</text>
<use href="#one" transform="translate(411.34,637.6) scale(0.00391)"/>
<text x="404.67 409.12" y="637.6">6/</text>
<text x="412.96 417.41 419.63" y="637.6">6/5</text>
<text x="421.25 425.70 427.92" y="637.6">6/9</text>
<use href="#one" transform="translate(433.99,637.6) scale(0.00391)"/>
<text x="427.32 431.77 438.44" y="637.6">6/3</text>
<use href="#one" transform="translate(442.28,637.6) scale(0.00391)"/>
<text x="435.61 440.06 446.73" y="637.6">6/7</text>
<use href="#one" transform="translate(455.02,637.6) scale(0.00391)"/>
<text x="443.90 448.34 450.57" y="637.6">6/2</text>
<text x="452.18 456.63 458.86 463.31" y="637.6">6/25</text>
<text x="460.47 464.92 467.15 471.60" y="637.6">6/29</text>
<text x="470.99 475.44 477.66" y="637.6">7/3</text>
<text x="479.28 483.73 485.95" y="637.6">7/7</text>
<use href="#one" transform="translate(492.01,637.6) scale(0.00391)"/>
<use href="#one" transform="translate(496.46,637.6) scale(0.00391)"/>
<text x="485.34 489.79" y="637.6">7/</text>
<use href="#one" transform="translate(500.30,637.6) scale(0.00391)"/>
<text x="493.63 498.08 504.75" y="637.6">7/5</text>
<use href="#one" transform="translate(508.59,637.6) scale(0.00391)"/>
<text x="501.92 506.37 513.04" y="637.6">7/9</text>
<text x="510.21 514.66 516.88 521.33" y="637.6">7/23</text>
<text x="518.50 522.95 525.17 529.62" y="637.6">7/27</text>
<use href="#one" transform="translate(537.91,637.6) scale(0.00391)"/>
<text x="526.79 531.24 533.46" y="637.6">7/3</text>
<text x="537.30 541.75 543.98" y="637.6">8/4</text>
<text x="545.59 550.04 552.26" y="637.6">8/8</text>
<use href="#one" transform="translate(558.33,637.6) scale(0.00391)"/>
<text x="551.66 556.11 562.78" y="637.6">8/2</text>
<use href="#one" transform="translate(566.62,637.6) scale(0.00391)"/>
<text x="559.95 564.40 571.07" y="637.6">8/6</text>
<text x="568.24 572.69 574.91 579.36" y="637.6">8/20</text>
<text x="576.53 580.98 583.20 587.65" y="637.6">8/24</text>
<text x="584.81 589.26 591.49 595.94" y="637.6">8/28</text>
<use href="#one" transform="translate(602.00,637.6) scale(0.00391)"/>
<text x="595.33 599.78" y="637.6">9/</text>
<text x="603.62 608.07 610.29" y="637.6">9/5</text>
<text x="611.91 616.36 618.58" y="637.6">9/9</text>
<use href="#one" transform="translate(624.64,637.6) scale(0.00391)"/>
<text x="617.97 622.42 629.09" y="637.6">9/3</text>
<use href="#one" transform="translate(632.93,637.6) scale(0.00391)"/>
<text x="626.26 630.71 637.38" y="637.6">9/7</text>
<use href="#one" transform="translate(645.67,637.6) scale(0.00391)"/>
<text x="634.55 639.00 641.22" y="637.6">9/2</text>
<text x="642.84 647.29 649.51 653.96" y="637.6">9/25</text>
<text x="651.13 655.58 657.80 662.25" y="637.6">9/29</text>
<use href="#one" transform="translate(659.42,637.6) scale(0.00391)"/>
<text x="663.87 668.32 670.54" y="637.6">0/3</text>
<use href="#one" transform="translate(667.71,637.6) scale(0.00391)"/>
<text x="672.16 676.61 678.83" y="637.6">0/7</text>
<use href="#one" transform="translate(673.77,637.6) scale(0.00391)"/>
<use href="#one" transform="translate(684.90,637.6) scale(0.00391)"/>
<use href="#one" transform="translate(689.34,637.6) scale(0.00391)"/>
<text x="678.22 682.67" y="637.6">0/</text>
<use href="#one" transform="translate(682.06,637.6) scale(0.00391)"/>
<use href="#one" transform="translate(693.18,637.6) scale(0.00391)"/>
<text x="686.51 690.96 697.63" y="637.6">0/5</text>
<use href="#one" transform="translate(690.35,637.6) scale(0.00391)"/>
<use href="#one" transform="translate(701.47,637.6) scale(0.00391)"/>
<text x="694.80 699.25 705.92" y="637.6">0/9</text>
<use href="#one" transform="translate(698.64,637.6) scale(0.00391)"/>
<text x="703.09 707.54 709.76 714.21" y="637.6">0/23</text>
<use href="#one" transform="translate(706.93,637.6) scale(0.00391)"/>
<text x="711.38 715.83 718.05 722.50" y="637.6">0/27</text>
<use href="#one" transform="translate(715.22,637.6) scale(0.00391)"/>
<use href="#one" transform="translate(730.79,637.6) scale(0.00391)"/>
<text x="719.67 724.12 726.34" y="637.6">0/3</text>
<use href="#one" transform="translate(725.73,637.6) scale(0.00391)"/>
<use href="#one" transform="translate(730.18,637.6) scale(0.00391)"/>
<text x="734.63 736.86" y="637.6">/4</text>
<use href="#one" transform="translate(734.02,637.6) scale(0.00391)"/>
<use href="#one" transform="translate(738.47,637.6) scale(0.00391)"/>
<text x="742.92 745.15" y="637.6">/8</text>
<use href="#one" transform="translate(740.09,637.6) scale(0.00391)"/>
<use href="#one" transform="translate(744.54,637.6) scale(0.00391)"/>
<use href="#one" transform="translate(751.21,637.6) scale(0.00391)"/>
<text x="748.99 755.66" y="637.6">/2</text>
<use href="#one" transform="translate(748.38,637.6) scale(0.00391)"/>
<use href="#one" transform="translate(752.83,637.6) scale(0.00391)"/>
<use href="#one" transform="translate(759.50,637.6) scale(0.00391)"/>
<text x="757.28 763.95" y="637.6">/6</text>
<use href="#one" transform="translate(756.67,637.6) scale(0.00391)"/>
<use href="#one" transform="translate(761.12,637.6) scale(0.00391)"/>
<text x="765.57 767.79 772.24" y="637.6">/20</text>
<use href="#one" transform="translate(764.96,637.6) scale(0.00391)"/>
<use href="#one" transform="translate(769.41,637.6) scale(0.00391)"/>
<text x="773.86 776.08 780.53" y="637.6">/24</text>
<use href="#one" transform="translate(773.25,637.6) scale(0.00391)"/>
<use href="#one" transform="translate(777.70,637.6) scale(0.00391)"/>
<text x="782.15 784.37 788.82" y="637.6">/28</text>
<use href="#one" transform="translate(783.76,637.6) scale(0.00391)"/>
<text x="788.21 792.66 794.88" y="637.6">2/2</text>
<use href="#one" transform="translate(792.05,637.6) scale(0.00391)"/>
<text x="796.50 800.95 803.17" y="637.6">2/6</text>
<use href="#one" transform="translate(798.11,637.6) scale(0.00391)"/>
<use href="#one" transform="translate(809.24,637.6) scale(0.00391)"/>
<text x="802.56 807.01 813.69" y="637.6">2/0</text>
<use href="#one" transform="translate(806.40,637.6) scale(0.00391)"/>
<use href="#one" transform="translate(817.53,637.6) scale(0.00391)"/>
<text x="810.85 815.30 821.98" y="637.6">2/4</text>
<use href="#one" transform="translate(814.69,637.6) scale(0.00391)"/>
<use href="#one" transform="translate(825.82,637.6) scale(0.00391)"/>
<text x="819.14 823.59 830.26" y="637.6">2/8</text>
<use href="#one" transform="translate(822.98,637.6) scale(0.00391)"/>
<text x="827.43 831.88 834.10 838.55" y="637.6">2/22</text>
<use href="#one" transform="translate(831.27,637.6) scale(0.00391)"/>
<text x="835.72 840.17 842.39 846.84" y="637.6">2/26</text>
<use href="#one" transform="translate(839.56,637.6) scale(0.00391)"/>
<text x="844.01 848.46 850.68 855.13" y="637.6">2/30</text>
<use href="#one" transform="translate(852.30,637.6) scale(0.00391)"/>
<text x="856.75 858.97" y="637.6">/3</text>
<use href="#one" transform="translate(860.59,637.6) scale(0.00391)"/>
<text x="865.04 867.26" y="637.6">/7</text>
<use href="#one" transform="translate(866.65,637.6) scale(0.00391)"/>
<use href="#one" transform="translate(873.33,637.6) scale(0.00391)"/>
<use href="#one" transform="translate(877.78,637.6) scale(0.00391)"/>
<text x="871.10" y="637.6">/</text>
<use href="#one" transform="translate(874.94,637.6) scale(0.00391)"/>
<use href="#one" transform="translate(881.62,637.6) scale(0.00391)"/>
<text x="879.39 886.07" y="637.6">/5</text>
<use href="#one" transform="translate(883.23,637.6) scale(0.00391)"/>
<use href="#one" transform="translate(889.91,637.6) scale(0.00391)"/>
<text x="887.68 894.36" y="637.6">/9</text>
</g>
<polyline points="94.5,464.4 132.9,464.4 136.7,448.3 178.9,448.3 180.4,442.9 186.4,442.9 188.0,422.5 189.5,415.0 191.3,410.7 193.5,410.7 194.4,378.5 207.3,378.5 209.0,373.1 213.1,373.1 214.4,364.0 216.1,351.6 217.9,338.2 219.7,330.1 221.5,329.6 222.3,321.6 224.1,303.3 228.4,303.3 229.3,276.4 231.6,276.4 234.6,249.6 236.4,249.6 237.6,206.6 246.5,206.6 248.8,211.5 250.6,218.5 252.3,228.1 253.2,233.5 265.6,233.5 266.5,228.1 270.1,228.1 276.3,219.5 281.8,206.6 294.0,206.6 296.6,201.3 302.5,201.3 311.6,179.8 315.2,179.8 317.3,195.9 319.1,197.0 321.4,222.8 323.2,222.8 325.0,233.5 329.3,233.5 330.4,239.4 331.3,250.1 332.2,273.2 333.1,303.3 336.6,315.7 341.0,328.5 342.2,330.1 344.0,330.1 346.6,346.8 348.0,357.0 350.2,358.1 353.7,367.7 358.1,367.7 359.4,391.4 360.5,410.7 363.1,410.7 365.5,437.5 367.0,437.5 369.3,459.0 376.4,459.0 379.9,491.2 381.2,491.2 387.0,475.1 414.5,475.1 416.3,478.4 423.4,480.5 436.7,480.5 439.4,496.6 447.3,496.6 453.6,512.7 462.4,512.7 467.7,528.8 474.0,528.8 479.3,539.6 481.6,541.2 485.5,550.3 491.7,550.3 499.3,571.8 520.1,571.8 528.1,550.3 555.6,550.3 557.9,545.0 568.0,545.0 569.5,550.3 599.0,550.3 600.8,545.0 637.2,545.0 638.0,545.5 639.8,571.8 642.0,571.8 644.3,587.9 648.4,587.9 653.2,604.0 657.2,604.0 659.7,582.5 663.3,582.5 666.5,545.0 668.2,545.0 673.1,496.6 696.5,496.6 702.3,480.5 708.6,480.5 717.4,459.0 724.5,459.0 728.1,475.1 730.7,459.0 735.7,459.0 738.7,437.5 742.2,437.5 744.5,408.6 745.7,405.3 758.1,405.3 759.9,400.0 773.2,400.0 775.0,389.2 779.4,389.2 789.2,357.0 795.4,357.0 798.1,351.6 809.9,351.6 812.4,357.0 813.7,357.0 815.6,351.6 831.8,351.6 833.5,346.3 857.6,346.3 861.9,335.5 876.4,335.5 878.3,340.9 881.8,340.9 888.8,319.4 895.5,319.4" fill="none" stroke="#fff" stroke-opacity="0.4" stroke-width="3.6" stroke-linejoin="round"/>
<polyline points="94.5,464.4 132.9,464.4 136.7,448.3 178.9,448.3 180.4,442.9 186.4,442.9 188.0,422.5 189.5,415.0 191.3,410.7 193.5,410.7 194.4,378.5 207.3,378.5 209.0,373.1 213.1,373.1 214.4,364.0 216.1,351.6 217.9,338.2 219.7,330.1 221.5,329.6 222.3,321.6 224.1,303.3 228.4,303.3 229.3,276.4 231.6,276.4 234.6,249.6 236.4,249.6 237.6,206.6 246.5,206.6 248.8,211.5 250.6,218.5 252.3,228.1 253.2,233.5 265.6,233.5 266.5,228.1 270.1,228.1 276.3,219.5 281.8,206.6 294.0,206.6 296.6,201.3 302.5,201.3 311.6,179.8 315.2,179.8 317.3,195.9 319.1,197.0 321.4,222.8 323.2,222.8 325.0,233.5 329.3,233.5 330.4,239.4 331.3,250.1 332.2,273.2 333.1,303.3 336.6,315.7 341.0,328.5 342.2,330.1 344.0,330.1 346.6,346.8 348.0,357.0 350.2,358.1 353.7,367.7 358.1,367.7 359.4,391.4 360.5,410.7 363.1,410.7 365.5,437.5 367.0,437.5 369.3,459.0 376.4,459.0 379.9,491.2 381.2,491.2 387.0,475.1 414.5,475.1 416.3,478.4 423.4,480.5 436.7,480.5 439.4,496.6 447.3,496.6 453.6,512.7 462.4,512.7 467.7,528.8 474.0,528.8 479.3,539.6 481.6,541.2 485.5,550.3 491.7,550.3 499.3,571.8 520.1,571.8 528.1,550.3 555.6,550.3 557.9,545.0 568.0,545.0 569.5,550.3 599.0,550.3 600.8,545.0 637.2,545.0 638.0,545.5 639.8,571.8 642.0,571.8 644.3,587.9 648.4,587.9 653.2,604.0 657.2,604.0 659.7,582.5 663.3,582.5 666.5,545.0 668.2,545.0 673.1,496.6 696.5,496.6 702.3,480.5 708.6,480.5 717.4,459.0 724.5,459.0 728.1,475.1 730.7,459.0 735.7,459.0 738.7,437.5 742.2,437.5 744.5,408.6 745.7,405.3 758.1,405.3 759.9,400.0 773.2,400.0 775.0,389.2 779.4,389.2 789.2,357.0 795.4,357.0 798.1,351.6 809.9,351.6 812.4,357.0 813.7,357.0 815.6,351.6 831.8,351.6 833.5,346.3 857.6,346.3 861.9,335.5 876.4,335.5 878.3,340.9 881.8,340.9 888.8,319.4 895.5,319.4" fill="none" stroke="#0d0048" stroke-width="2" stroke-linejoin="miter"/>
<polyline points="134.9,464.1 137.0,463.3 139.1,462.6 141.1,461.8 143.2,461.0 145.3,460.3 147.3,459.5 149.4,458.8 151.5,458.0 153.6,457.2 155.6,456.5 157.7,455.7 159.8,455.0 161.9,454.2 163.9,453.4 166.0,452.7 168.1,451.9 170.1,451.1 172.2,450.4 174.3,449.6 176.4,449.1 178.4,448.8 180.5,448.4 182.6,448.0 184.6,447.5 186.7,446.8 188.8,445.6 190.9,443.7 192.9,441.7 195.0,438.6 197.1,435.4 199.2,432.0 201.2,428.7 203.3,425.1 205.4,421.6 207.4,418.0 209.5,414.1 211.6,410.3 213.7,406.2 215.7,401.5 217.8,396.3 219.9,390.9 221.9,385.4 224.0,378.8 226.1,372.3 228.2,365.7 230.2,358.7 232.3,351.7 234.4,343.7 236.5,336.5 238.5,327.6 240.6,318.3 242.7,309.0 244.7,299.7 246.8,291.1 248.9,283.0 251.0,275.3 253.0,268.0 255.1,261.4 257.2,255.2 259.3,249.8 261.3,245.0 263.4,240.3 265.5,236.7 267.5,233.1 269.6,229.6 271.7,227.4 273.8,225.3 275.8,223.7 277.9,222.5 280.0,222.6 282.0,222.5 284.1,222.5 286.2,222.5 288.3,222.4 290.3,222.2 292.4,221.3 294.5,220.0 296.6,218.4 298.6,216.7 300.7,215.0 302.8,213.3 304.8,211.5 306.9,209.4 309.0,207.2 311.1,204.8 313.1,202.3 315.2,200.3 317.3,199.2 319.4,198.6 321.4,199.3 323.5,200.3 325.6,201.6 327.6,203.0 329.7,204.5 331.8,207.4 333.9,211.8 335.9,216.7 338.0,222.5 340.1,228.6 342.1,235.1 344.2,242.0 346.3,249.5 348.4,257.5 350.4,266.0 352.5,274.8 354.6,283.9 356.7,293.2 358.7,302.5 360.8,312.9 362.9,322.5 364.9,332.5 367.0,343.2 369.1,353.9 371.2,364.5 373.2,374.1 375.3,382.4 377.4,390.7 379.4,399.4 381.5,408.2 383.6,416.9 385.7,424.8 387.7,431.8 389.8,437.1 391.9,442.3 394.0,447.5 396.0,453.0 398.1,458.5 400.2,463.2 402.2,466.9 404.3,469.8 406.4,472.2 408.5,473.7 410.5,474.7 412.6,475.5 414.7,476.2 416.8,476.9 418.8,477.3 420.9,477.2 423.0,476.8 425.0,476.6 427.1,476.6 429.2,476.7 431.3,477.0 433.3,477.2 435.4,477.4 437.5,478.1 439.5,479.1 441.6,480.2 443.7,481.2 445.8,482.3 447.8,483.4 449.9,484.6 452.0,486.4 454.1,488.3 456.1,490.2 458.2,492.0 460.3,493.8 462.3,495.5 464.4,497.4 466.5,499.5 468.6,501.8 470.6,504.3 472.7,506.8 474.8,509.3 476.8,511.8 478.9,514.2 481.0,516.4 483.1,518.8 485.1,521.4 487.2,524.0 489.3,526.6 491.4,529.2 493.4,531.7 495.5,534.3 497.6,537.2 499.6,540.2 501.7,543.2 503.8,546.1 505.9,548.6 507.9,551.0 510.0,553.2 512.1,555.3 514.2,557.4 516.2,559.5 518.3,561.4 520.4,563.0 522.4,564.4 524.5,564.9 526.6,565.1 528.7,565.2 530.7,565.2 532.8,565.2 534.9,565.1 536.9,564.7 539.0,563.7 541.1,562.6 543.2,561.4 545.2,560.2 547.3,559.0 549.4,557.8 551.5,556.8 553.5,555.7 555.6,554.6 557.7,553.4 559.7,552.1 561.8,550.9 563.9,550.0 566.0,549.2 568.0,548.8 570.1,548.8 572.2,548.8 574.2,548.8 576.3,548.8 578.4,548.8 580.5,548.8 582.5,548.7 584.6,548.7 586.7,548.7 588.8,548.7 590.8,548.7 592.9,548.7 595.0,548.7 597.0,548.6 599.1,548.8 601.2,548.7 603.3,548.7 605.3,548.7 607.4,548.7 609.5,548.7 611.6,548.5 613.6,548.3 615.7,548.1 617.8,547.8 619.8,547.5 621.9,547.3 624.0,547.0 626.1,546.8 628.1,546.5 630.2,546.2 632.3,545.8 634.3,545.5 636.4,545.2 638.5,545.7 640.6,547.0 642.6,548.7 644.7,550.8 646.8,552.9 648.9,555.0 650.9,557.5 653.0,560.3 655.1,563.2 657.1,565.9 659.2,568.0 661.3,569.9 663.4,571.5 665.4,572.4 667.5,572.5 669.6,571.7 671.6,570.0 673.7,567.7 675.8,565.5 677.9,563.3 679.9,561.0 682.0,557.4 684.1,553.4 686.2,548.9 688.2,544.3 690.3,539.5 692.4,534.3 694.4,528.6 696.5,523.0 698.6,517.5 700.7,512.4 702.7,507.3 704.8,502.3 706.9,498.4 709.0,495.4 711.0,492.6 713.1,490.4 715.2,488.6 717.2,486.7 719.3,484.7 721.4,482.8 723.5,480.9 725.5,479.2 727.6,477.8 729.7,476.2 731.7,474.5 733.8,472.7 735.9,470.8 738.0,468.1 740.0,465.5 742.1,463.0 744.2,459.4 746.3,455.5 748.3,451.6 750.4,447.9 752.5,444.5 754.5,441.4 756.6,438.4 758.7,435.7 760.8,432.9 762.8,430.1 764.9,427.1 767.0,424.0 769.1,420.6 771.1,417.1 773.2,413.7 775.3,410.0 777.3,406.7 779.4,403.7 781.5,400.7 783.6,397.9 785.6,395.8 787.7,393.6 789.8,391.4 791.8,389.2 793.9,387.0 796.0,384.8 798.1,382.2 800.1,379.6 802.2,377.1 804.3,374.6 806.4,372.2 808.4,369.7 810.5,367.2 812.6,365.1 814.6,363.0 816.7,361.1 818.8,359.3 820.9,357.6 822.9,356.1 825.0,354.9 827.1,354.1 829.1,353.4 831.2,353.0 833.3,352.4 835.4,351.9 837.4,351.4 839.5,351.1 841.6,350.8 843.7,350.5 845.7,350.3 847.8,350.0 849.9,349.7 851.9,349.4 854.0,348.9 856.1,348.5 858.2,348.2 860.2,347.5 862.3,346.7 864.4,345.9 866.5,345.1 868.5,344.3 870.6,343.4 872.7,342.7 874.7,342.0 876.8,341.5 878.9,341.1 881.0,340.9 883.0,340.5 885.1,339.8 887.2,338.7 889.2,337.6 891.3,336.3 893.4,334.9 895.5,333.6" fill="none" stroke="#000" stroke-width="4" stroke-linejoin="round" stroke-linecap="butt"/>
<circle cx="134.9" cy="464.1" r="2" fill="#000"/>
<rect x="370" y="21.1" width="196.7" height="35.6" fill="#FECC02"/>
<g class="ser" font-size="24.4" fill="#111" stroke="#111" stroke-width="0.18">
<text transform="matrix(1.6172 0 0 0.9990 375.37 48.16)">J</text>
<text transform="matrix(1.3570 0 0 1.0125 389.14 48.26)">C</text>
<text transform="matrix(0.8094 0 0 1.0643 409.77 49.40)">'</text>
<text transform="matrix(1.3267 0 0 0.8861 415.17 48.29)">s</text>
<text transform="matrix(1.1443 0 0 1.1830 437.20 49.50)">$</text>
<text transform="matrix(1.0708 0 0 0.9970 452.45 48.13)">B</text>
<text transform="matrix(1.1522 0 0 1.0014 468.89 48.20)">P</text>
<text transform="matrix(1.2738 0 0 1.0125 483.23 48.26)">G</text>
<text transform="matrix(1.2099 0 0 1.0125 504.09 48.26)">O</text>
<text transform="matrix(1.2091 0 0 1.0014 524.55 48.20)">L</text>
<text transform="matrix(1.1104 0 0 0.9984 541.22 48.15)">D</text>
</g>
<rect x="0.5" y="0.5" width="928" height="675" fill="none" stroke="#000" stroke-width="1" shape-rendering="crispEdges"/>
</svg></body></html>
